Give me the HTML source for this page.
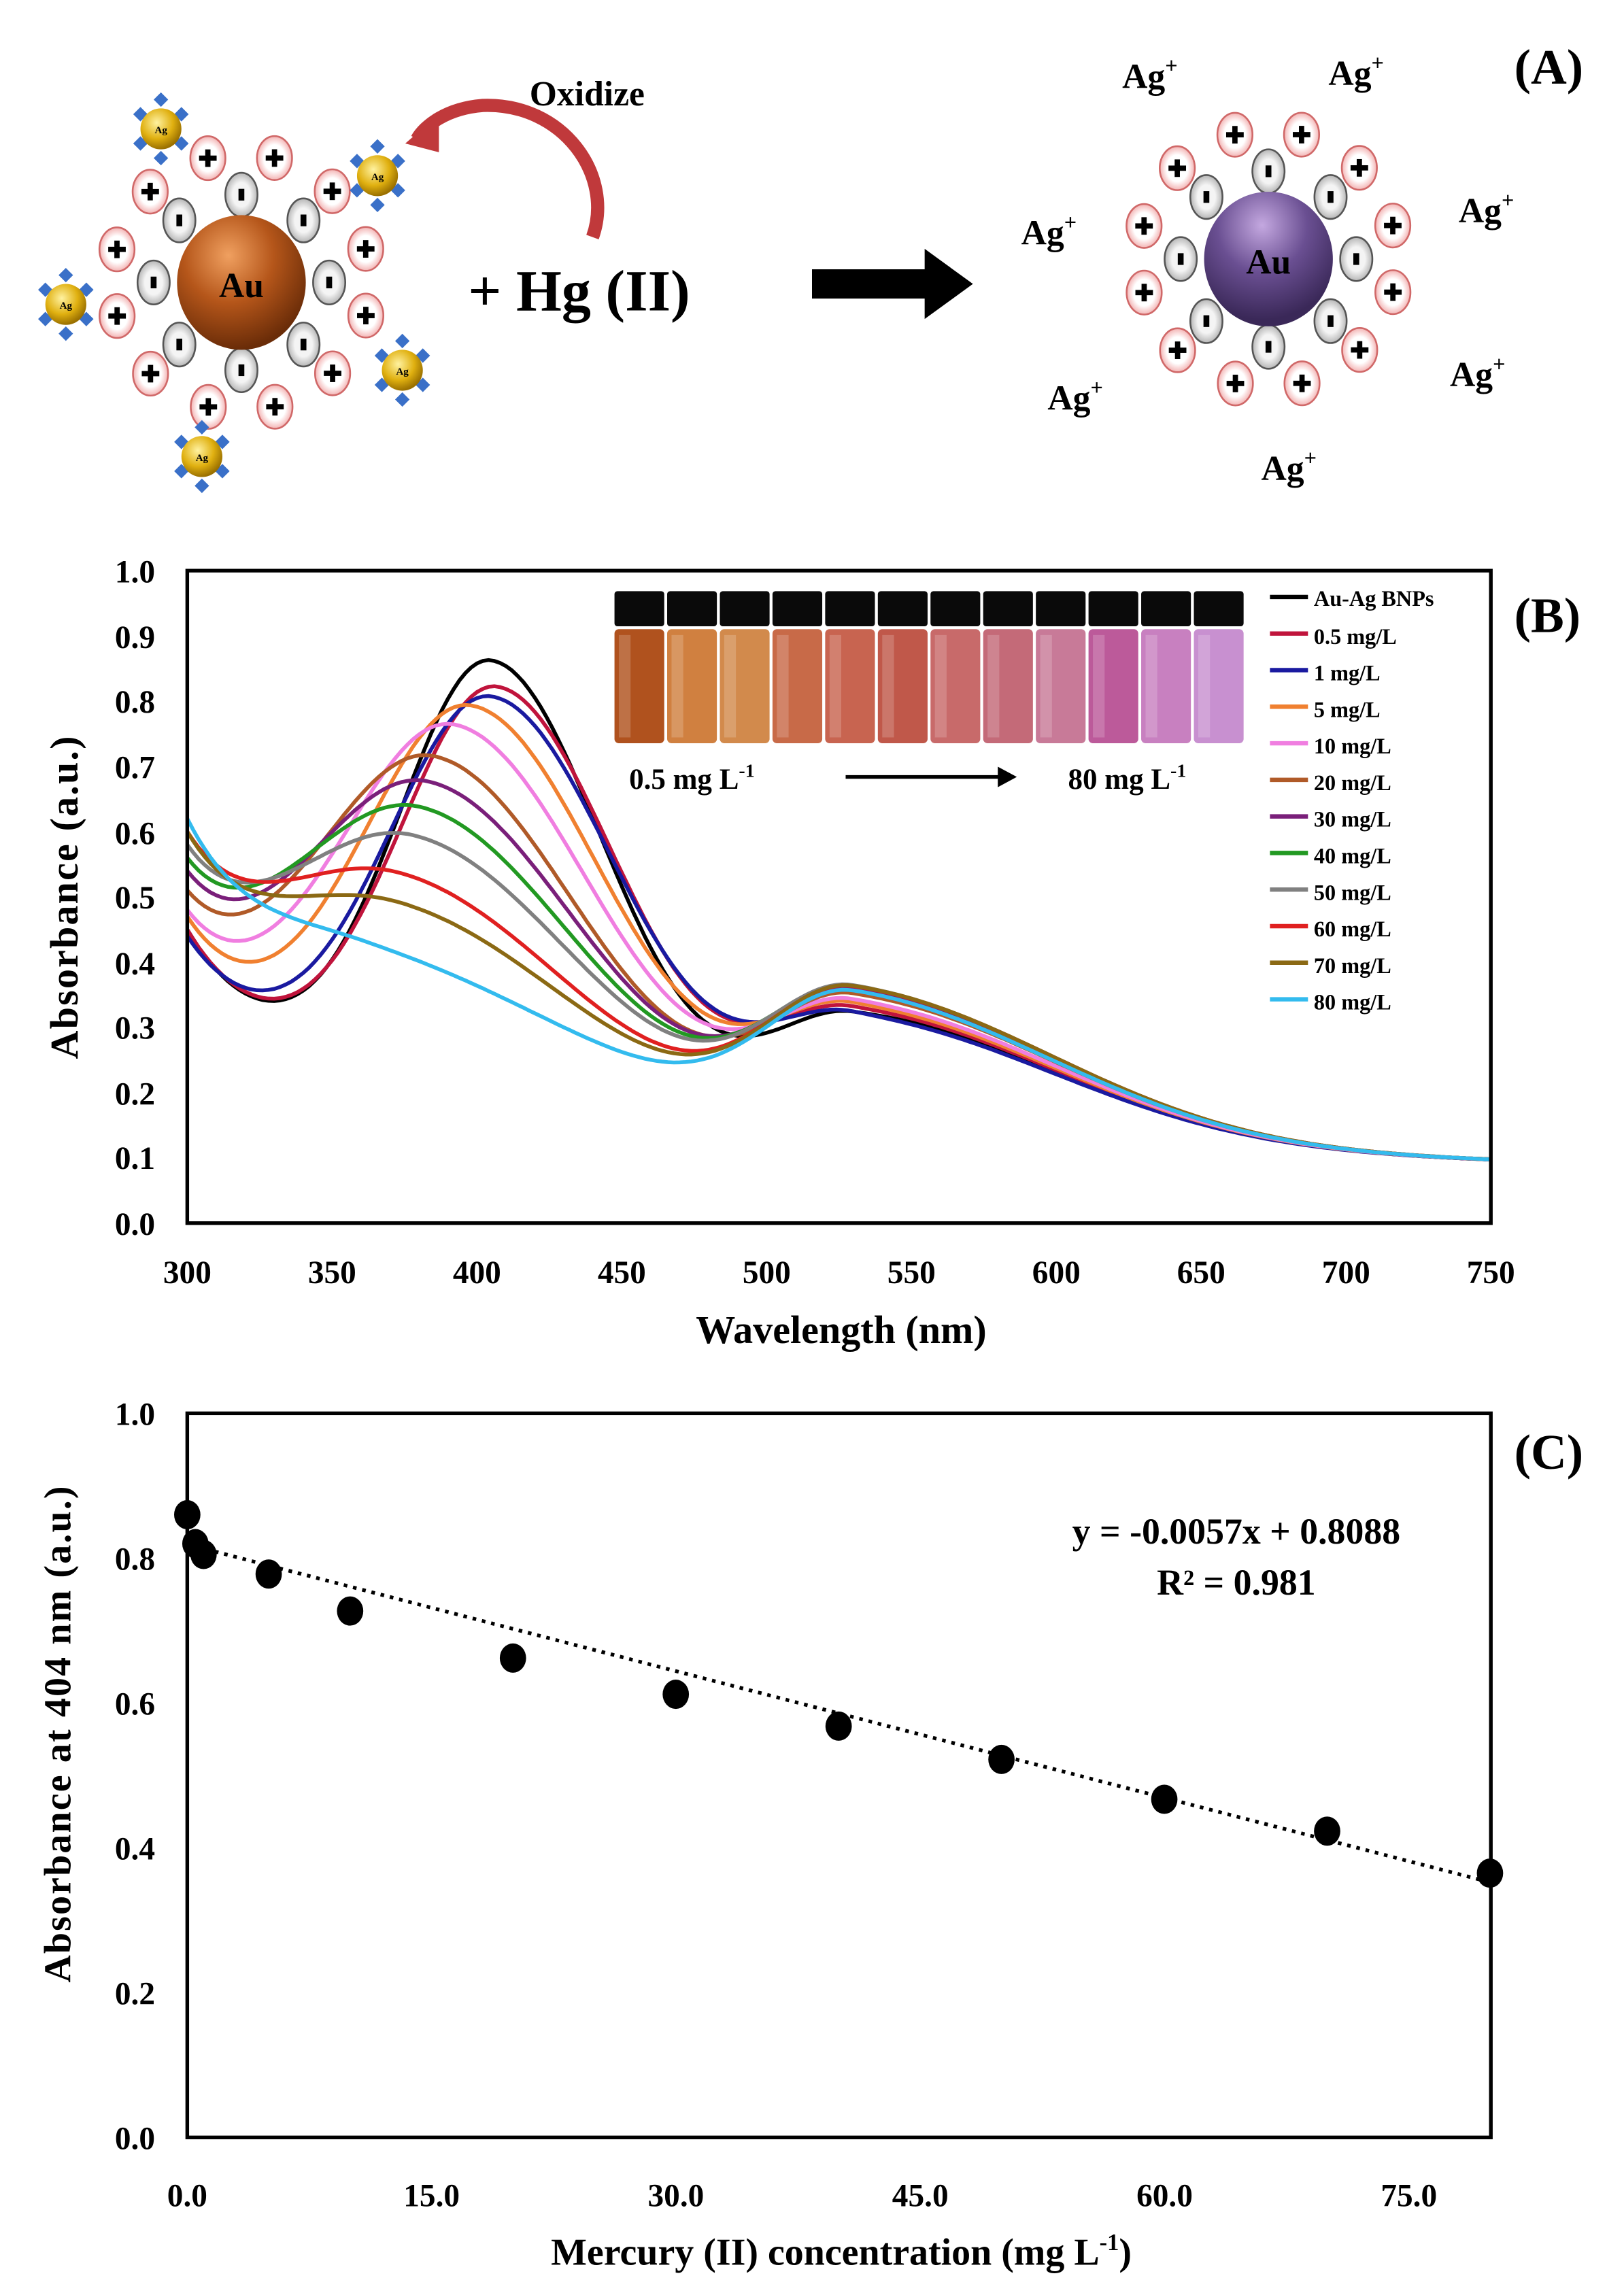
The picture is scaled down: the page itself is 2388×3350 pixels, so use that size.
<!DOCTYPE html>
<html><head><meta charset="utf-8"><style>
html,body{margin:0;padding:0;background:#fff}
svg{display:block}
text{font-family:"Liberation Serif",serif;font-weight:bold;fill:#000}
</style></head><body>
<svg id="s" width="2388" height="3350" viewBox="0 0 1110 1557" xmlns="http://www.w3.org/2000/svg">
<defs>
<radialGradient id="gAu" cx="40%" cy="30%" r="70%"><stop offset="0" stop-color="#f0a060"/><stop offset="0.5" stop-color="#b5561a"/><stop offset="1" stop-color="#6a2c08"/></radialGradient>
<radialGradient id="gPu" cx="45%" cy="25%" r="70%"><stop offset="0" stop-color="#c4a8e0"/><stop offset="0.5" stop-color="#6a4f92"/><stop offset="1" stop-color="#3a2858"/></radialGradient>
<radialGradient id="gAg" cx="40%" cy="35%" r="65%"><stop offset="0" stop-color="#fff2a0"/><stop offset="0.6" stop-color="#e0b010"/><stop offset="1" stop-color="#9a7000"/></radialGradient>
<radialGradient id="gP" cx="50%" cy="50%" r="55%"><stop offset="0.55" stop-color="#fff"/><stop offset="1" stop-color="#f0a0a0"/></radialGradient>
<radialGradient id="gM" cx="50%" cy="50%" r="55%"><stop offset="0.5" stop-color="#f4f4f4"/><stop offset="1" stop-color="#a8a8a8"/></radialGradient>
</defs>
<g id="panelA"></g>
<text x="1035" y="57" font-size="34">(A)</text>
<text x="362" y="72" font-size="24">Oxidize</text>
<path d="M405,162 C420,120 385,70 330,72 C305,74 290,86 285,95" fill="none" stroke="#c0393b" stroke-width="9"/>
<polygon points="277,98 300,78 300,104" fill="#c0393b"/>
<text x="320" y="212" font-size="40">+  Hg (II)</text>
<rect x="555" y="184" width="80" height="20" fill="#000"/>
<polygon points="632,170 665,194 632,218" fill="#000"/>
<text x="767" y="60" font-size="24">Ag<tspan dy="-10" font-size="15">+</tspan></text>
<text x="908" y="58" font-size="24">Ag<tspan dy="-10" font-size="15">+</tspan></text>
<text x="698" y="167" font-size="24">Ag<tspan dy="-10" font-size="15">+</tspan></text>
<text x="997" y="152" font-size="24">Ag<tspan dy="-10" font-size="15">+</tspan></text>
<text x="716" y="280" font-size="24">Ag<tspan dy="-10" font-size="15">+</tspan></text>
<text x="991" y="264" font-size="24">Ag<tspan dy="-10" font-size="15">+</tspan></text>
<text x="862" y="328" font-size="24">Ag<tspan dy="-10" font-size="15">+</tspan></text>

<g id="curves"></g>
<rect x="128" y="390" width="891" height="446" fill="none" stroke="#000" stroke-width="2.5"/>
<g id="vials"></g>
<g font-size="22" text-anchor="end">
<text x="106" y="398">1.0</text><text x="106" y="443">0.9</text><text x="106" y="487">0.8</text><text x="106" y="532">0.7</text><text x="106" y="577">0.6</text><text x="106" y="621">0.5</text><text x="106" y="666">0.4</text><text x="106" y="710">0.3</text><text x="106" y="755">0.2</text><text x="106" y="799">0.1</text><text x="106" y="844">0.0</text>
</g>
<g font-size="22" text-anchor="middle">
<text x="128" y="877">300</text><text x="227" y="877">350</text><text x="326" y="877">400</text><text x="425" y="877">450</text><text x="524" y="877">500</text><text x="623" y="877">550</text><text x="722" y="877">600</text><text x="821" y="877">650</text><text x="920" y="877">700</text><text x="1019" y="877">750</text>
</g>
<text x="575" y="918" font-size="27" text-anchor="middle">Wavelength (nm)</text>
<text transform="translate(53,613) rotate(-90)" font-size="27" text-anchor="middle" letter-spacing="1">Absorbance (a.u.)</text>
<text x="1035" y="432" font-size="34">(B)</text>
<g id="legend" font-size="15">
<text x="898" y="414">Au-Ag BNPs</text><text x="898" y="440">0.5 mg/L</text><text x="898" y="465">1 mg/L</text><text x="898" y="490">5 mg/L</text><text x="898" y="515">10 mg/L</text><text x="898" y="540">20 mg/L</text><text x="898" y="565">30 mg/L</text><text x="898" y="590">40 mg/L</text><text x="898" y="615">50 mg/L</text><text x="898" y="640">60 mg/L</text><text x="898" y="665">70 mg/L</text><text x="898" y="690">80 mg/L</text>
</g>
<text x="430" y="539" font-size="20">0.5 mg L<tspan dy="-8" font-size="13">-1</tspan></text>
<text x="730" y="539" font-size="20">80 mg L<tspan dy="-8" font-size="13">-1</tspan></text>
<line x1="578" y1="531" x2="685" y2="531" stroke="#000" stroke-width="2.5"/>
<polygon points="695,531 682,524 682,538" fill="#000"/>

<rect x="128" y="966" width="891" height="495" fill="none" stroke="#000" stroke-width="2.5"/>
<line x1="128" y1="1055.6" x2="1019" y2="1286.7" stroke="#000" stroke-width="2.5" stroke-dasharray="2.5,4"/>
<g id="pts"></g>
<g font-size="22" text-anchor="end">
<text x="106" y="974">1.0</text><text x="106" y="1073">0.8</text><text x="106" y="1172">0.6</text><text x="106" y="1271">0.4</text><text x="106" y="1370">0.2</text><text x="106" y="1469">0.0</text>
</g>
<g font-size="22" text-anchor="middle">
<text x="128" y="1508">0.0</text><text x="295" y="1508">15.0</text><text x="462" y="1508">30.0</text><text x="629" y="1508">45.0</text><text x="796" y="1508">60.0</text><text x="963" y="1508">75.0</text>
</g>
<text x="575" y="1548" font-size="26" text-anchor="middle">Mercury (II) concentration (mg L<tspan dy="-10" font-size="16">-1</tspan><tspan dy="10">)</tspan></text>
<text transform="translate(48,1185) rotate(-90)" font-size="26" text-anchor="middle" letter-spacing="1">Absorbance  at 404 nm (a.u.)</text>
<text x="1035" y="1004" font-size="34">(C)</text>
<text x="845" y="1055" font-size="25" text-anchor="middle">y = -0.0057x + 0.8088</text>
<text x="845" y="1090" font-size="25" text-anchor="middle">R² = 0.981</text>
</svg>
<script>
var NS="http://www.w3.org/2000/svg";
function el(p,t,a){var e=document.createElementNS(NS,t);for(var k in a)e.setAttribute(k,a[k]);p.appendChild(e);return e;}
var A=document.getElementById('panelA');
function cluster(cx,cy,grad){
  var i,a;
  for(i=0;i<12;i++){a=i/12*2*Math.PI+0.26;el(A,'ellipse',{cx:cx+88*Math.cos(a),cy:cy+88*Math.sin(a),rx:12,ry:15,fill:'url(#gP)',stroke:'#d06868','stroke-width':1.2});
    var px=cx+88*Math.cos(a),py=cy+88*Math.sin(a);el(A,'rect',{x:px-6,y:py-1.8,width:12,height:3.6,fill:'#000'});el(A,'rect',{x:px-1.8,y:py-6,width:3.6,height:12,fill:'#000'});}
  for(i=0;i<8;i++){a=i/8*2*Math.PI;var mx=cx+60*Math.cos(a),my=cy+60*Math.sin(a);el(A,'ellipse',{cx:mx,cy:my,rx:11,ry:15,fill:'url(#gM)',stroke:'#555','stroke-width':1.2});el(A,'rect',{x:mx-2,y:my-4,width:4,height:8,fill:'#000'});}
  el(A,'ellipse',{cx:cx,cy:cy,rx:44,ry:46,fill:grad});
}
cluster(165,193,'url(#gAu)');cluster(867,177,'url(#gPu)');
[[110,88],[258,120],[45,208],[275,253],[138,312]].forEach(function(p){
  [[0,-20],[0,20],[-14,-10],[14,-10],[-14,10],[14,10]].forEach(function(d){el(A,'rect',{x:p[0]+d[0]-3.5,y:p[1]+d[1]-3.5,width:7,height:7,fill:'#3a70c8',transform:'rotate(45 '+(p[0]+d[0])+' '+(p[1]+d[1])+')'});});
  el(A,'circle',{cx:p[0],cy:p[1],r:14,fill:'url(#gAg)'});
  var t=el(A,'text',{x:p[0],y:p[1]+3,'font-size':7,'text-anchor':'middle'});t.textContent='Ag';
});
var tau=el(A,'text',{x:165,y:203,'font-size':24,'text-anchor':'middle'});tau.textContent='Au';
var tau2=el(A,'text',{x:867,y:187,'font-size':24,'text-anchor':'middle',fill:'#1a1030'});tau2.textContent='Au';
var G=document.getElementById('curves');
function X(l){return 128+(l-300)*891/450;} function Y(v){return 836-v*446;}
function B(l){return 0.075+0.2*Math.exp(-(l-300)/200);}
function G2(l,h){var w=l<530?42:100;return h*Math.exp(-Math.pow((l-530)/w,2));}
var S=[['#000',405,.86,.45,.33],['#c0143c',407,.82,.45,.335],['#1a1aa0',405,.805,.44,.325],['#f08030',398,.79,.47,.34],['#f07ee0',392,.76,.48,.345],['#b05a28',385,.71,.51,.355],['#7a1f7a',383,.67,.54,.36],['#229922',380,.63,.56,.365],['#808080',378,.585,.58,.365],['#e02020',373,.525,.60,.365],['#8b6914',372,.48,.60,.365],['#33bbee',362,.41,.62,.355]];
S.forEach(function(s,i){
  var p=s[1],H=s[2],V=s[3],h2=s[4]-0.148;
  var wl=45+i*2.5,wr=55+i*3; if(i==11){wl=75;wr=100;}
  var g1=function(l){var w=l<p?wl:wr;return Math.exp(-Math.pow((l-p)/w,2));};
  var h1=H-B(p)-G2(p,h2);
  var u=V-B(300)-h1*g1(300)-G2(300,h2);
  var d='';
  for(var l=300;l<=750;l+=2){var v=B(l)+h1*g1(l)+G2(l,h2)+u*Math.exp(-(l-300)/25);d+=(l==300?'M':'L')+X(l).toFixed(1)+','+Y(v).toFixed(1);}
  el(G,'path',{d:d,fill:'none',stroke:s[0],'stroke-width':2.6});
});
S.forEach(function(s,i){var y=408+i*25;el(document.getElementById('legend'),'line',{x1:868,y1:y,x2:894,y2:y,stroke:s[0],'stroke-width':3});});
var Vg=document.getElementById('vials');
var vc=['#b0521e','#d08040','#d28a4c','#c86a48','#c86450','#c0584a','#c86a6a','#c46a78','#c87a98','#bc5a9a','#c880c0','#c890d0'];
for(var i=0;i<12;i++){var x=420+i*36;
 el(Vg,'rect',{x:x,y:430,width:34,height:78,fill:vc[i],rx:3});
 el(Vg,'rect',{x:x+3,y:434,width:8,height:70,fill:'#fff',opacity:.18});
 el(Vg,'rect',{x:x,y:404,width:34,height:24,fill:'#0a0a0a',rx:2});}
var P=document.getElementById('pts');
[[0,.86],[.5,.82],[1,.805],[5,.778],[10,.727],[20,.662],[30,.612],[40,.568],[50,.522],[60,.467],[70,.423],[80,.365]].forEach(function(q){
 el(P,'ellipse',{cx:128+q[0]*11.13,cy:1461-q[1]*495,rx:9,ry:10,fill:'#000'});});
</script>
</body></html>
